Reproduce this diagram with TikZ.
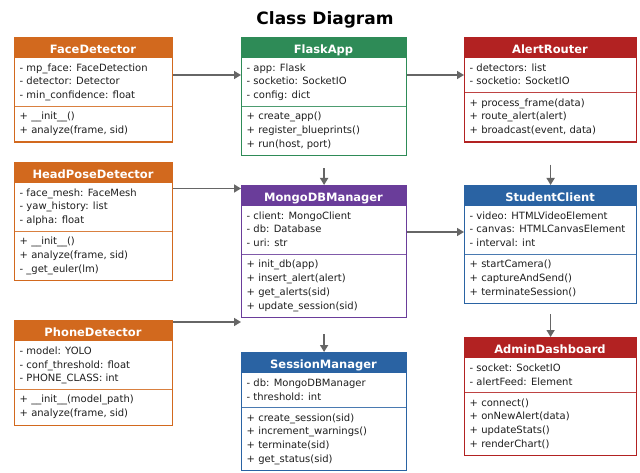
\documentclass[tikz,border=0pt]{standalone}
\usepackage{fontspec}
\setmainfont{DejaVu Sans}
\usetikzlibrary{arrows.meta,calc}

\definecolor{cOrange}{HTML}{D2691E}
\definecolor{cGreen}{HTML}{2E8B57}
\definecolor{cRed}{HTML}{B22222}
\definecolor{cPurple}{HTML}{6A3D9A}
\definecolor{cBlue}{HTML}{2A63A3}
\definecolor{cArrow}{HTML}{666666}
\definecolor{cText}{HTML}{1E1E1E}

\tikzset{
  headfill/.style={anchor=north west, inner sep=0pt, outer sep=0pt, minimum height=21pt},
  classbox/.style={anchor=north west, inner sep=0pt, line width=1.2pt},
  headtext/.style={anchor=base, inner sep=0pt, text=white, font=\fontsize{11.5}{13}\selectfont\bfseries},
  item/.style={anchor=base west, inner sep=0pt, text=cText, font=\fontsize{10}{12}\selectfont},
  sepline/.style={line width=0.9pt},
  arr/.style={draw=cArrow, line width=1.5pt, -{Triangle[length=7pt,width=8pt]}},
}

% \umlclass{name}{left}{right}{top}{colour}{title}{attributes}{methods}
\newcommand\umlclass[8]{%
  \foreach \t [count=\i] in {#7} {\xdef\umlnA{\i}}%
  \foreach \t [count=\i] in {#8} {\xdef\umlnM{\i}}%
  \pgfmathsetmacro\umlsep{#4+21+\umlnA*13.7+7.5}%
  \pgfmathsetmacro\umlbot{\umlsep+\umlnM*13.7+7.5}%
  \pgfmathsetmacro\umlw{#3-#2}%
  \pgfmathsetmacro\umlh{\umlbot-#4}%
  \pgfmathsetmacro\umlmid{(#2+#3)/2}%
  \node[headfill, fill=#5, minimum width=\umlw pt] (#1-head) at (#2,#4) {};
  \node[headtext] (#1-title) at (\umlmid,#4+16.8) {#6};
  \draw[sepline, draw=#5!85] (#2,\umlsep) -- (#3,\umlsep);
  \node[classbox, draw=#5, minimum width=\umlw pt, minimum height=\umlh pt] (#1) at (#2,#4) {};
  \foreach \t [count=\i] in {#7}
    {\node[item] (#1-a\i) at (#2+5.5,#4+21+13.3+\i*13.7-13.7) {\t};}
  \foreach \t [count=\i] in {#8}
    {\node[item] (#1-m\i) at (#2+5.5,\umlsep+13.3+\i*13.7-13.7) {\t};}
}

\begin{document}
\begin{tikzpicture}[x=1pt,y=-1pt]
\useasboundingbox[fill=white] (0,0) rectangle (640,473);

\node[anchor=base, inner sep=0pt, font=\fontsize{17}{20}\selectfont\bfseries] (title) at (325,25) {Class Diagram};

% left column: detectors
\umlclass{fd}{14}{172}{37}{cOrange}{FaceDetector}
  {{- mp\_face: FaceDetection},{- detector: Detector},{- min\_confidence: float}}
  {{+ \_\_init\_\_()},{+ analyze(frame, sid)}}
\umlclass{hp}{14}{172}{162}{cOrange}{HeadPoseDetector}
  {{- face\_mesh: FaceMesh},{- yaw\_history: list},{- alpha: float}}
  {{+ \_\_init\_\_()},{+ analyze(frame, sid)},{- \_get\_euler(lm)}}
\umlclass{pd}{14}{172}{320}{cOrange}{PhoneDetector}
  {{- model: YOLO},{- conf\_threshold: float},{- PHONE\_CLASS: int}}
  {{+ \_\_init\_\_(model\_path)},{+ analyze(frame, sid)}}

% middle column: server side
\umlclass{flask}{241}{406}{37}{cGreen}{FlaskApp}
  {{- app: Flask},{- socketio: SocketIO},{- config: dict}}
  {{+ create\_app()},{+ register\_blueprints()},{+ run(host, port)}}
\umlclass{mongo}{241}{406}{185}{cPurple}{MongoDBManager}
  {{- client: MongoClient},{- db: Database},{- uri: str}}
  {{+ init\_db(app)},{+ insert\_alert(alert)},{+ get\_alerts(sid)},{+ update\_session(sid)}}
\umlclass{sess}{241}{406}{352}{cBlue}{SessionManager}
  {{- db: MongoDBManager},{- threshold: int}}
  {{+ create\_session(sid)},{+ increment\_warnings()},{+ terminate(sid)},{+ get\_status(sid)}}

% right column: routing and clients
\umlclass{alert}{464}{636}{37}{cRed}{AlertRouter}
  {{- detectors: list},{- socketio: SocketIO}}
  {{+ process\_frame(data)},{+ route\_alert(alert)},{+ broadcast(event, data)}}
\umlclass{student}{464}{636}{185}{cBlue}{StudentClient}
  {{- video: HTMLVideoElement},{- canvas: HTMLCanvasElement},{- interval: int}}
  {{+ startCamera()},{+ captureAndSend()},{+ terminateSession()}}
\umlclass{admin}{464}{636}{337}{cRed}{AdminDashboard}
  {{- socket: SocketIO},{- alertFeed: Element}}
  {{+ connect()},{+ onNewAlert(data)},{+ updateStats()},{+ renderChart()}}

% connectors
\draw[arr] ([yshift=-38pt]fd.north east) coordinate (c1) -- (c1 -| flask.west);
\draw[arr] ([yshift=-38pt]flask.north east) coordinate (c2) -- (c2 -| alert.west);
\draw[arr] ([yshift=-26.5pt]hp.north east) coordinate (c3) -- (c3 -| mongo.west);
\draw[arr] ([yshift=-2pt]pd.north east) coordinate (c4) -- (c4 -| mongo.west);
\draw[arr] ([yshift=-47pt]mongo.north east) coordinate (c5) -- (c5 -| student.west);
\draw[arr, shorten <=12pt] (flask.south) -- (mongo.north);
\draw[arr, shorten <=16pt] (mongo.south) -- (sess.north);
\draw[arr, shorten <=22pt] (alert.south) -- (student.north);
\draw[arr, shorten <=10pt] (student.south) -- (admin.north);
\end{tikzpicture}
\end{document}
